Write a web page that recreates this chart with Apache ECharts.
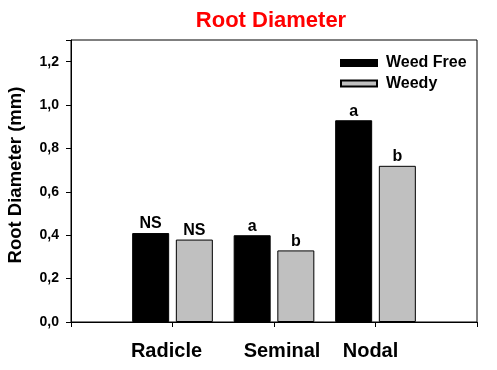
<!DOCTYPE html>
<html><head><meta charset="utf-8">
<script src="https://cdn.jsdelivr.net/npm/echarts@6/dist/echarts.min.js"></script>
<style>html,body{margin:0;padding:0;background:#fff}#c{width:497px;height:370px}</style>
</head><body><div id="c"></div>
<script>
const categories = ['', 'Radicle', 'Seminal', 'Nodal', ''];
const weedFree = ['-', 0.41, 0.40, 0.93, '-'];
const weedy = ['-', 0.38, 0.33, 0.72, '-'];
const weedFreeLabels = ['', 'NS', 'a', 'a', ''];
const weedyLabels = ['', 'NS', 'b', 'b', ''];
const yTicks = [0, 0.2, 0.4, 0.6, 0.8, 1.0, 1.2];

const FONT = 'Liberation Sans, Arial, sans-serif';
const labelShift = {Radicle: 'l', Seminal: 'r', Nodal: 'm'};
const chart = echarts.init(document.getElementById('c'), null, {renderer: 'canvas'});
chart.setOption({
  animation: false,
  title: {
    text: 'Root Diameter', left: 266, textAlign: 'center', top: 5,
    textStyle: {color: '#ff0000', fontFamily: FONT, fontWeight: 'bold', fontSize: 22}
  },
  grid: {left: 71, right: 20, top: 40, bottom: 48, containLabel: false, outerBoundsMode: 'none',
    show: true, borderColor: '#000', borderWidth: 1, backgroundColor: 'transparent'},
  legend: {
    orient: 'vertical', left: 340, top: 54, padding: 0, itemWidth: 36, itemHeight: 6, itemGap: 2.4,
    icon: 'rect',
    textStyle: {fontFamily: FONT, fontWeight: 'bold', fontSize: 16, lineHeight: 18, color: '#000', padding: [0, 0, 0, 4]},
    data: ['Weed Free', 'Weedy']
  },
  xAxis: {
    type: 'category', data: categories, boundaryGap: false,
    axisLine: {lineStyle: {color: '#000', width: 1}},
    axisTick: {show: true, length: 5, lineStyle: {color: '#000'}},
    axisLabel: {color: '#000', fontFamily: FONT, fontWeight: 'bold', fontSize: 20, margin: 19, interval: 0,
      formatter: v => v ? '{' + labelShift[v] + '|' + v + '}' : '',
      rich: {
        l: {padding: [0, 12, 0, 0]},
        r: {padding: [0, 0, 0, 16]},
        m: {padding: [0, 10, 0, 0]}
      }
    },
    splitLine: {show: false}
  },
  yAxis: {
    type: 'value', min: 0, max: 1.3, interval: 0.2,
    name: 'Root Diameter (mm)', nameLocation: 'middle', nameGap: 46, nameRotate: 90,
    nameTextStyle: {color: '#000', fontFamily: FONT, fontWeight: 'bold', fontSize: 18.5, padding: [0, 0, 0, 12]},
    axisLine: {show: true, lineStyle: {color: '#000', width: 1}},
    axisTick: {show: true, length: 5, lineStyle: {color: '#000'}},
    axisLabel: {
      color: '#000', fontFamily: FONT, fontWeight: 'bold', fontSize: 14, margin: 12,
      formatter: v => yTicks.some(t => Math.abs(t - v) < 1e-9) ? v.toFixed(1).replace('.', ',') : ''
    },
    splitLine: {show: false}
  },
  series: [
    {
      name: 'Weed Free', type: 'bar', data: weedFree, barWidth: 37, barGap: '18%',
      itemStyle: {color: '#000', borderColor: '#000', borderWidth: 1},
      label: {show: true, position: 'top', distance: 1, color: '#000', fontFamily: FONT, fontWeight: 'bold', fontSize: 16,
        formatter: p => weedFreeLabels[p.dataIndex]}
    },
    {
      name: 'Weedy', type: 'bar', data: weedy, barWidth: 37, barGap: '18%',
      itemStyle: {color: '#c0c0c0', borderColor: '#000', borderWidth: 1},
      label: {show: true, position: 'top', distance: 1, color: '#000', fontFamily: FONT, fontWeight: 'bold', fontSize: 16,
        formatter: p => weedyLabels[p.dataIndex]}
    }
  ]
});
</script></body></html>
